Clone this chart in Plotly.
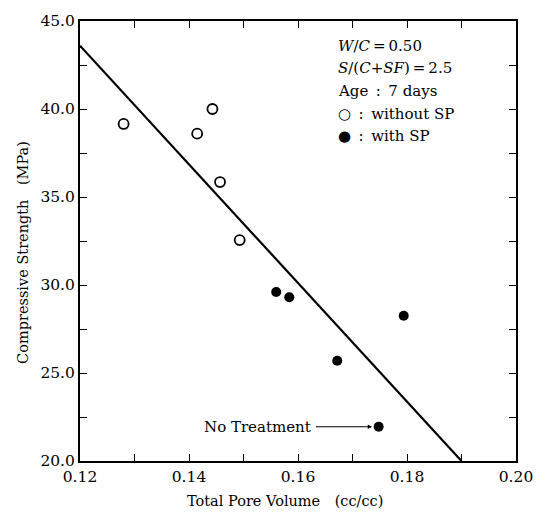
import plotly.graph_objects as go

# Data
without_sp_x = [0.1280, 0.1415, 0.1443, 0.1457, 0.1493]
without_sp_y = [39.15, 38.6, 40.0, 35.85, 32.55]
with_sp_x = [0.1560, 0.1584, 0.1672, 0.1748, 0.1794]
with_sp_y = [29.6, 29.3, 25.7, 21.95, 28.25]
fit_x = [0.12, 0.19]
fit_y = [43.6, 20.0]
no_treatment = (0.1748, 21.95)

FONT = "DejaVu Serif"

fig = go.Figure()
fig.add_trace(go.Scatter(x=fit_x, y=fit_y, mode="lines",
                         line=dict(color="black", width=2.2), showlegend=False))
fig.add_trace(go.Scatter(x=without_sp_x, y=without_sp_y, mode="markers",
                         marker=dict(symbol="circle-open", size=10, color="black",
                                     line=dict(width=1.8, color="black")),
                         showlegend=False))
fig.add_trace(go.Scatter(x=with_sp_x, y=with_sp_y, mode="markers",
                         marker=dict(symbol="circle", size=10, color="black"),
                         showlegend=False))

axis_common = dict(showline=True, linecolor="black", linewidth=2, mirror="ticks",
                   ticks="inside", ticklen=7, tickwidth=1.3, tickcolor="black",
                   showgrid=False, zeroline=False,
                   tickfont=dict(family=FONT, size=15.5, color="black"))

fig.update_xaxes(range=[0.12, 0.20], dtick=0.02, tick0=0.12, tickformat=".2f",
                 minor=dict(ticks="inside", dtick=0.01, ticklen=7, tickcolor="black", tickwidth=1.3),
                 **axis_common)
fig.update_yaxes(range=[20, 45], dtick=5, tick0=20, tickformat=".1f",
                 minor=dict(ticks="inside", dtick=2.5, ticklen=7, tickcolor="black", tickwidth=1.3),
                 **axis_common)

# Axis titles (placed as in the reference, offset from plot centre)
fig.add_annotation(xref="paper", yref="paper", x=0.471, y=-0.0915,
                   text="Total Pore Volume\u2002\u2002(cc/cc)", showarrow=False,
                   xanchor="center", yanchor="middle",
                   font=dict(family=FONT, size=14.5, color="black"))
fig.add_annotation(xref="paper", yref="paper", x=-0.131, y=0.475,
                   text="Compressive Strength\u2002\u2002(MPa)", showarrow=False, textangle=-90,
                   xanchor="center", yanchor="middle",
                   font=dict(family=FONT, size=14.5, color="black"))

legend_lines = [
    ("<i>W</i>/<i>C</i>\u2009=\u20090.50", 0.943),
    ("<i>S</i>/(<i>C</i>+<i>SF</i>)\u2009=\u20092.5", 0.893),
    ("Age\u2002:\u20027 days", 0.840),
    ("\u25cb\u2002:\u2002without SP", 0.788),
    ("\u25cf\u2002:\u2002with SP", 0.738),
]
for txt, yp in legend_lines:
    fig.add_annotation(xref="paper", yref="paper", x=0.588, y=yp, text=txt,
                       showarrow=False, xanchor="left", yanchor="middle",
                       font=dict(family=FONT, size=15, color="black"))

fig.add_annotation(x=no_treatment[0] - 0.0012, y=no_treatment[1], xref="x", yref="y",
                   ax=0.1630, ay=no_treatment[1], axref="x", ayref="y",
                   text="", showarrow=True, arrowhead=2, arrowsize=0.8,
                   arrowwidth=1.1, arrowcolor="black")
fig.add_annotation(x=0.1628, y=no_treatment[1], xref="x", yref="y",
                   text="No Treatment", showarrow=False, xanchor="right", yanchor="middle",
                   font=dict(family=FONT, size=15, color="black"))

fig.update_layout(width=545, height=518, margin=dict(l=80, r=23, t=13, b=57),
                  plot_bgcolor="white", paper_bgcolor="white",
                  font=dict(family=FONT, color="black"))

fig.write_html("out.html")
